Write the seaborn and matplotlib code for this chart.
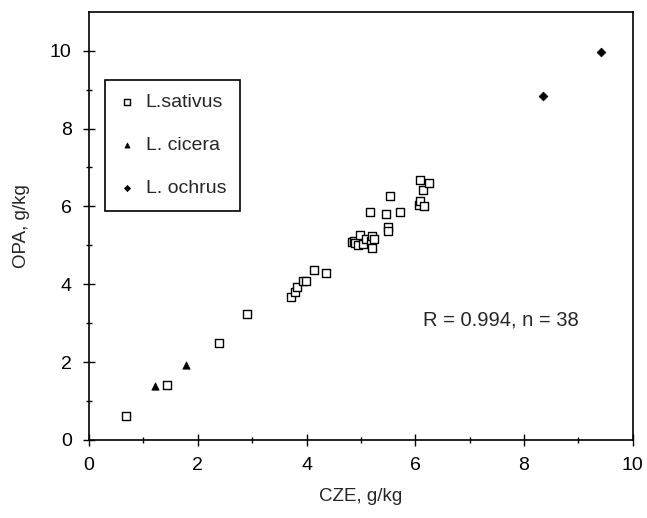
import numpy as np
import pandas as pd
import matplotlib
matplotlib.use('Agg')
import matplotlib.pyplot as plt
import seaborn as sns

# L. sativus (open squares)
sativus_cze = [0.68, 1.44, 2.39, 2.91, 3.71, 3.79, 3.82, 3.93, 3.99, 4.14, 4.36,
               4.83, 4.88, 4.90, 4.95, 4.98, 5.04, 5.10, 5.18, 5.21, 5.21, 5.25,
               5.17, 5.46, 5.50, 5.50, 5.54, 5.72,
               6.07, 6.08, 6.08, 6.15, 6.16, 6.25]
sativus_opa = [0.62, 1.40, 2.49, 3.24, 3.67, 3.80, 3.93, 4.08, 4.09, 4.36, 4.30,
               5.09, 5.11, 5.05, 5.00, 5.27, 5.04, 5.15, 5.10, 5.23, 4.94, 5.15,
               5.85, 5.81, 5.48, 5.37, 6.27, 5.85,
               6.04, 6.13, 6.67, 6.43, 6.02, 6.61]
# L. cicera (filled triangles)
cicera_cze = [1.21, 1.78]
cicera_opa = [1.38, 1.92]
# L. ochrus (filled diamonds)
ochrus_cze = [8.35, 9.42]
ochrus_opa = [8.83, 9.96]

df = pd.DataFrame({
    'CZE': sativus_cze + cicera_cze + ochrus_cze,
    'OPA': sativus_opa + cicera_opa + ochrus_opa,
    'species': ['L.sativus'] * len(sativus_cze) + ['L. cicera'] * len(cicera_cze)
               + ['L. ochrus'] * len(ochrus_cze),
})

sns.set_style('ticks')
plt.rcParams['font.family'] = ['Liberation Sans', 'DejaVu Sans']

fig = plt.figure(figsize=(6.47, 5.18), dpi=100)
ax = fig.add_axes([0.1376, 0.1506, 0.8404, 0.8268])

sat = df[df['species'] == 'L.sativus']
sns.scatterplot(x='CZE', y='OPA', data=sat, ax=ax, marker='s', s=30,
                facecolors='white', edgecolor='black', linewidth=1.0, label='L.sativus')
cic = df[df['species'] == 'L. cicera']
sns.scatterplot(x='CZE', y='OPA', data=cic, ax=ax, marker='^', s=28,
                color='black', edgecolor='black', linewidth=0.5, label='L. cicera')
och = df[df['species'] == 'L. ochrus']
sns.scatterplot(x='CZE', y='OPA', data=och, ax=ax, marker='D', s=20,
                color='black', edgecolor='black', linewidth=0.5, label='L. ochrus')

ax.set_xlim(0, 10)
ax.set_ylim(0, 11)
ax.set_xticks([0, 2, 4, 6, 8, 10])
ax.set_yticks([0, 2, 4, 6, 8, 10])
ax.set_xticks([1, 3, 5, 7, 9], minor=True)
ax.set_yticks([1, 3, 5, 7, 9], minor=True)
ax.tick_params(which='major', direction='inout', length=9, width=1, colors='black',
               labelsize=14, pad=8)
ax.tick_params(which='minor', direction='inout', length=5, width=1, colors='black')
for sp in ax.spines.values():
    sp.set_color('black')
    sp.set_linewidth(1.2)

ax.set_xlabel('CZE, g/kg', fontsize=13.5, labelpad=10)
ax.set_ylabel('OPA, g/kg', fontsize=13.5, labelpad=14)

ax.text(6.14, 3.08, 'R = 0.994, n = 38', fontsize=14.5, va='center', ha='left')

leg = ax.legend(loc='upper left', bbox_to_anchor=(0.029, 0.84), fontsize=14,
                frameon=True, fancybox=False, edgecolor='black', framealpha=1,
                labelspacing=1.3, handletextpad=0.5, borderpad=0.7,
                handlelength=0.9, borderaxespad=0, markerscale=0.7)
leg.get_frame().set_linewidth(1.2)

fig.savefig('out.png', dpi=100)
